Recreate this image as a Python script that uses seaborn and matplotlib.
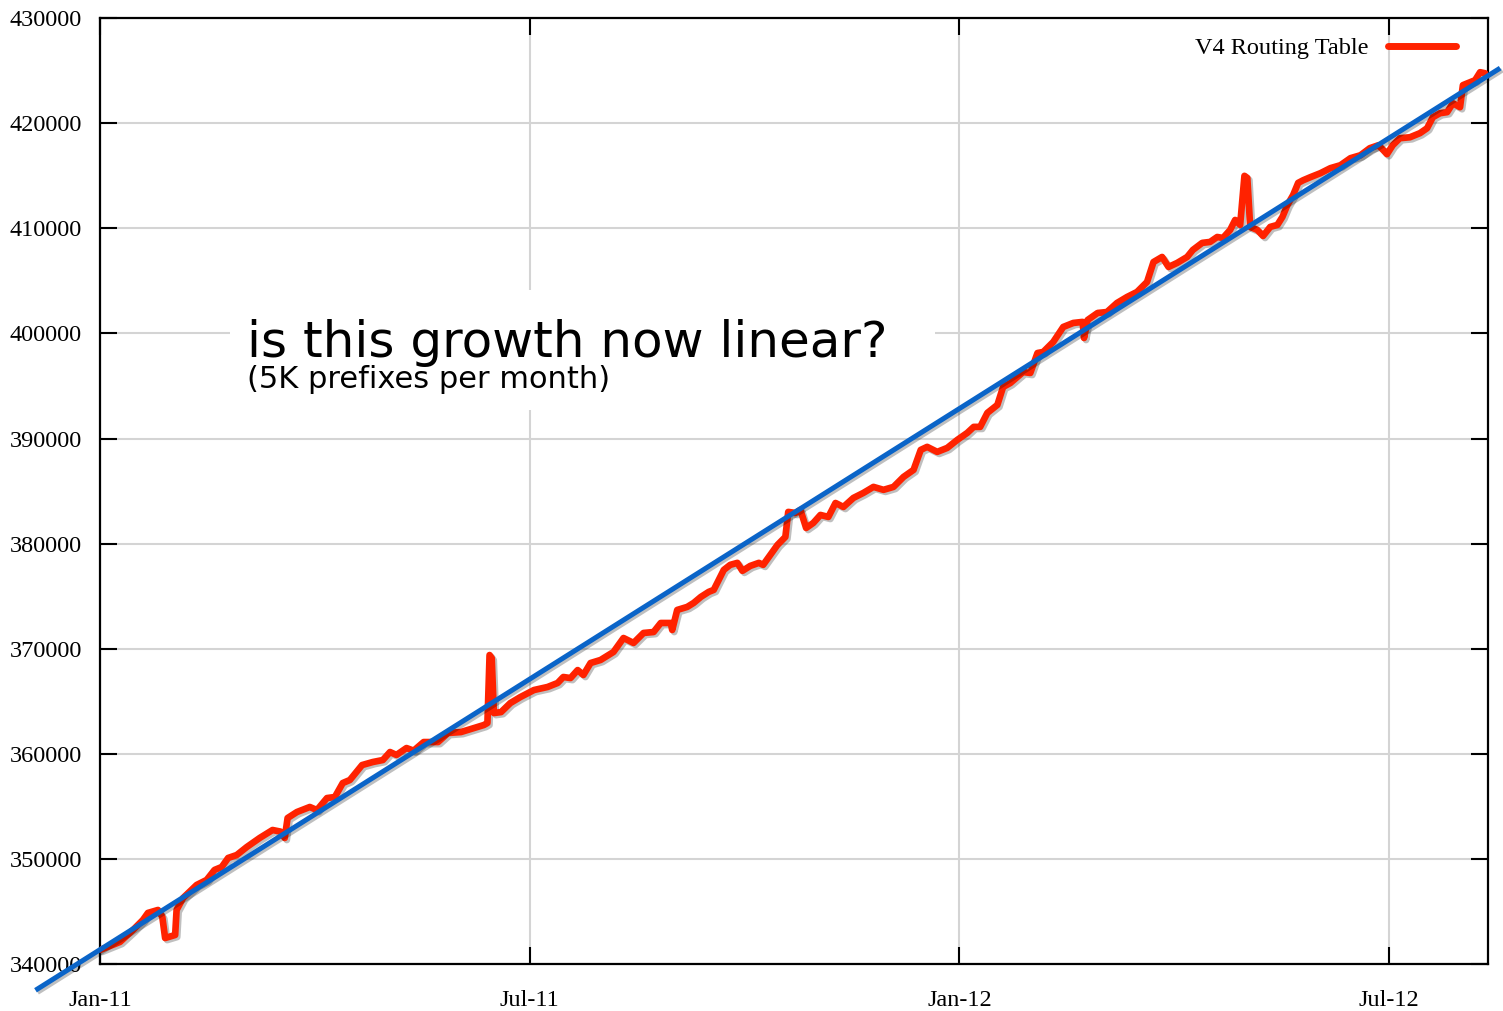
import matplotlib
matplotlib.use("Agg")
import matplotlib.pyplot as plt
import matplotlib.patheffects as pe
from matplotlib.patches import Rectangle
import seaborn as sns
import pandas as pd

# months since Jan 2011 and routing table size
months = [0.00, 0.28, 0.46, 0.60, 0.67, 0.81, 0.87, 0.91, 1.05, 1.07, 1.16, 1.35, 1.49, 1.60,
          1.70, 1.79, 1.91, 2.05, 2.23, 2.41, 2.52, 2.58, 2.62, 2.75, 2.93, 3.03, 3.17, 3.28,
          3.39, 3.49, 3.66, 3.81, 3.95, 4.05, 4.14, 4.28, 4.38, 4.52, 4.72, 4.86, 5.04, 5.22,
          5.36, 5.41, 5.44, 5.47, 5.50, 5.60, 5.73, 5.87, 6.06, 6.25, 6.39, 6.47, 6.57, 6.67,
          6.75, 6.85, 6.99, 7.17, 7.31, 7.45, 7.59, 7.73, 7.83, 7.97, 7.99, 8.06, 8.20, 8.29,
          8.39, 8.50, 8.57, 8.71, 8.80, 8.90, 8.97, 9.08, 9.20, 9.26, 9.36, 9.46, 9.57, 9.61,
          9.71, 9.78, 9.86, 9.96, 10.06, 10.17, 10.27, 10.38, 10.52, 10.66, 10.80, 10.94, 11.08,
          11.22, 11.36, 11.46, 11.55, 11.69, 11.83, 11.97, 12.11, 12.20, 12.29, 12.39, 12.53,
          12.61, 12.71, 12.89, 12.99, 13.09, 13.17, 13.31, 13.45, 13.59, 13.72, 13.74, 13.79,
          13.93, 14.06, 14.20, 14.34, 14.48, 14.62, 14.71, 14.83, 14.92, 15.04, 15.18, 15.26,
          15.39, 15.50, 15.60, 15.68, 15.78, 15.85, 15.92, 15.98, 16.02, 16.06, 16.16, 16.24,
          16.34, 16.44, 16.51, 16.58, 16.66, 16.73, 16.80, 16.90, 17.04, 17.18, 17.32, 17.46,
          17.60, 17.73, 17.85, 17.92, 17.97, 18.05, 18.15, 18.29, 18.43, 18.53, 18.61, 18.71,
          18.81, 18.89, 18.99, 19.03, 19.13, 19.20, 19.27, 19.34]
prefixes = [341330, 342100, 343230, 344190, 344860, 345140, 344500, 342470, 342760, 345140,
            346280, 347520, 348000, 348950, 349230, 350090, 350370, 351130, 351990, 352750,
            352600, 351990, 353890, 354460, 354940, 354650, 355790, 355890, 357220, 357510,
            358930, 359220, 359410, 360170, 359890, 360550, 360300, 361120, 361120, 361980,
            362070, 362450, 362740, 362930, 369400, 369100, 363880, 363970, 364830, 365400,
            366070, 366360, 366740, 367310, 367210, 367970, 367500, 368640, 368930, 369690,
            371020, 370550, 371500, 371590, 372450, 372450, 371780, 373690, 373980, 374360,
            374930, 375410, 375600, 377500, 377980, 378170, 377410, 377880, 378170, 377980,
            378930, 379880, 380640, 383020, 382920, 383210, 381490, 381970, 382730, 382540,
            383870, 383490, 384350, 384830, 385400, 385120, 385400, 386350, 387020, 388920,
            389210, 388730, 389110, 389870, 390540, 391110, 391110, 392440, 393200, 394910,
            395280, 396330, 396240, 398140, 398240, 399190, 400620, 401000, 401100, 399570,
            401280, 401950, 402040, 402900, 403470, 403950, 404900, 406800, 407280, 406330,
            406710, 407280, 407950, 408620, 408710, 409180, 409090, 409850, 410800, 410330,
            415000, 414800, 410140, 409850, 409280, 410140, 410330, 411090, 412230, 413180,
            414330, 414580, 414870, 415250, 415730, 416010, 416680, 416960, 417630, 417910,
            417440, 417060, 417910, 418580, 418670, 419060, 419530, 420580, 420960, 421060,
            421910, 421530, 423630, 423910, 424100, 424860, 424760]

# hand-drawn trend line end points
trend_months = [-0.90, 19.55]
trend_values = [337500, 425250]

x_ticks = [0, 6, 12, 18]
x_labels = ["Jan-11", "Jul-11", "Jan-12", "Jul-12"]
y_ticks = [340000, 350000, 360000, 370000, 380000, 390000, 400000, 410000, 420000, 430000]

red = "#ff2200"
blue = "#0a64c8"

sns.set_theme(style="white")
plt.rcParams["font.family"] = ["Liberation Serif", "DejaVu Serif"]
plt.rcParams["text.color"] = "black"

df = pd.DataFrame({"month": months, "prefixes": prefixes})

fig = plt.figure(figsize=(15.03, 10.11), dpi=100)
ax = fig.add_axes([0.0665, 0.0465, 0.9235, 0.9355])

shadow = [pe.SimpleLineShadow(offset=(1.5, -1.5), alpha=0.25, shadow_color="black"), pe.Normal()]

sns.lineplot(data=df, x="month", y="prefixes", ax=ax, color=red, linewidth=4.8,
             label="V4 Routing Table", zorder=3)
ax.lines[0].set_path_effects(shadow)
ax.lines[0].set_solid_joinstyle("round")
ax.lines[0].set_solid_capstyle("round")

ax.plot(trend_months, trend_values, color=blue, linewidth=3.6, clip_on=False,
        zorder=4, path_effects=shadow, solid_capstyle="butt")

ax.set_xlim(0, 19.38)
ax.set_ylim(340000, 430000)
ax.set_xticks(x_ticks)
ax.set_xticklabels(x_labels)
ax.set_yticks(y_ticks)
ax.set_yticklabels([str(v) for v in y_ticks])
ax.set_xlabel("")
ax.set_ylabel("")

ax.grid(True, color="#d4d4d4", linewidth=1.5)
ax.set_axisbelow(True)
for s in ax.spines.values():
    s.set_color("black")
    s.set_linewidth(1.6)
ax.tick_params(axis="both", direction="in", length=12, width=1.5, colors="black",
               labelsize=17.5, left=True, right=True, top=True, bottom=True)
ax.tick_params(axis="y", pad=13)
ax.tick_params(axis="x", pad=19)

# white patch behind the handwritten note
ax.add_patch(Rectangle((0.0937, 0.5856), 0.508, 0.127, transform=ax.transAxes,
                       facecolor="white", edgecolor="none", zorder=2))
ax.text(0.106, 0.6417, "is this growth now linear?", transform=ax.transAxes,
        fontsize=36, family="DejaVu Sans", color="black", zorder=5)
ax.text(0.106, 0.609, "(5K prefixes per month)", transform=ax.transAxes,
        fontsize=22, family="DejaVu Sans", color="black", zorder=5)

leg = ax.legend(loc="upper right", bbox_to_anchor=(0.993, 1.003), frameon=False,
                markerfirst=False, fontsize=17.5, handlelength=2.8, borderaxespad=0.5)
for h in leg.get_lines():
    h.set_linewidth(5)
    h.set_path_effects([])

fig.savefig("out.png", dpi=100)
